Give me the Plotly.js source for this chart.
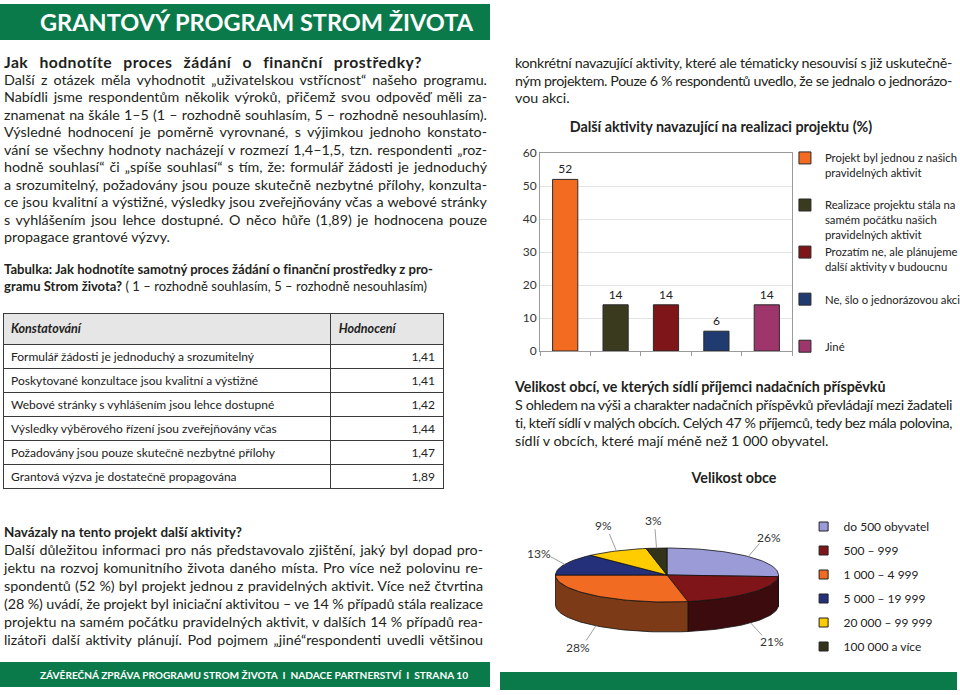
<!DOCTYPE html>
<html><head><meta charset="utf-8">
<script src="https://cdn.plot.ly/plotly-3.0.1.min.js"></script>
<style>
html,body{margin:0;padding:0;background:#fff;}
#page{position:relative;width:960px;height:695px;overflow:hidden;font-family:Lato,"Open Sans",sans-serif;color:#231f20;}
.bar{position:absolute;background:#0b7a4b;}
.ln{position:absolute;white-space:nowrap;line-height:18px;height:18px;}
.ln.j{text-align:justify;text-align-last:justify;}
.ln.b{font-weight:bold;}
.ln.c{text-align:center;}
.ttl{color:#fff;font-weight:bold;line-height:30px;height:30px;}
.ftr{color:#fff;font-weight:bold;line-height:14px;height:14px;}
.plot{position:absolute;}
</style></head>
<body>
<div id="page">
  <div class="bar" style="left:0;top:4px;width:490px;height:36px;"></div>
  <div class="bar" style="left:0;top:662px;width:490px;height:25px;"></div>
  <div class="bar" style="left:500px;top:672px;width:457px;height:18px;"></div>
  <div id="tbl" class="plot" style="left:2px;top:312px;width:442px;height:182px;"></div>
  <div id="barchart" class="plot" style="left:500px;top:110px;width:480px;height:300px;"></div>
  <div id="pie" class="plot" style="left:500px;top:495px;width:460px;height:170px;"></div>
</div>
<script>
// ---------- DATA ----------
const tableHeader = ['Konstatování', 'Hodnocení'];
const statements = [
  'Formulář žádosti je jednoduchý a srozumitelný',
  'Poskytované konzultace jsou kvalitní a výstižné',
  'Webové stránky s vyhlášením jsou lehce dostupné',
  'Výsledky výběrového řízení jsou zveřejňovány včas',
  'Požadovány jsou pouze skutečně nezbytné přílohy',
  'Grantová výzva je dostatečně propagována'
];
const ratings = ['1,41', '1,41', '1,42', '1,44', '1,47', '1,89'];

const activityTitle = 'Další aktivity navazující na realizaci projektu (%)';
const activityLabels = [
  'Projekt byl jednou z našich<br>pravidelných aktivit',
  'Realizace projektu stála na<br>samém počátku našich<br>pravidelných aktivit',
  'Prozatím ne, ale plánujeme<br>další aktivity v budoucnu',
  'Ne, šlo o jednorázovou akci',
  'Jiné'
];
const activityValues = [52, 14, 14, 6, 14];
const activityTicks = [0, 10, 20, 30, 40, 50, 60];

const sizeTitle = 'Velikost obce';
const sizeLabels = ['do 500 obyvatel', '500 – 999', '1 000 – 4 999', '5 000 – 19 999', '20 000 – 99 999', '100 000 a více'];
const sizeValues = [26, 21, 28, 13, 9, 3];

// ---------- STYLES ----------
const FONT = 'Lato, "Open Sans", sans-serif';
const activityColors = ['#f26b21', '#3a3a1f', '#7e1518', '#1f3b6f', '#9e356b'];
const sizeTopColors = ['#9b9bd8', '#7f1518', '#f26b22', '#25307a', '#ffcc00', '#33331a'];
const sizeSideColors = ['#6a6aa0', '#3c0b0d', '#7d3a17', '#151c4a', '#a08000', '#1a1a0d'];

// ---------- TEXT LINES ----------
// [left, centerY, width, mode, cls, fontSize, html]   mode: j=justify, f=fit width, n=natural
const L = 4, LW = 483, FS = 14.3;
const textLines = [
  [40, 22, 433, 'f', 'ttl', 25, 'GRANTOVÝ PROGRAM STROM ŽIVOTA'],
  [L, 62, 418, 'f', 'b', FS, 'Jak hodnotíte proces žádání o finanční prostředky?'],
  [L, 79.5, LW, 'j', '', FS, 'Další z otázek měla vyhodnotit „uživatelskou vstřícnost“ našeho programu.'],
  [L, 97, LW, 'j', '', FS, 'Nabídli jsme respondentům několik výroků, přičemž svou odpověď měli za-'],
  [L, 114.5, LW, 'j', '', FS, 'znamenat na škále 1–5 (1 – rozhodně souhlasím, 5 – rozhodně nesouhlasím).'],
  [L, 132, LW, 'j', '', FS, 'Výsledné hodnocení je poměrně vyrovnané, s výjimkou jednoho konstato-'],
  [L, 149.5, LW, 'j', '', FS, 'vání se všechny hodnoty nacházejí v rozmezí 1,4–1,5, tzn. respondenti „roz-'],
  [L, 167, LW, 'j', '', FS, 'hodně souhlasí“ či „spíše souhlasí“ s tím, že: formulář žádosti je jednoduchý'],
  [L, 184.5, LW, 'j', '', FS, 'a srozumitelný, požadovány jsou pouze skutečně nezbytné přílohy, konzulta-'],
  [L, 202, LW, 'j', '', FS, 'ce jsou kvalitní a výstižné, výsledky jsou zveřejňovány včas a webové stránky'],
  [L, 219.5, LW, 'j', '', FS, 's vyhlášením jsou lehce dostupné. O něco hůře (1,89) je hodnocena pouze'],
  [L, 237, 300, 'n', '', FS, 'propagace grantové výzvy.'],
  [L, 269, 429, 'f', 'b', FS, 'Tabulka: Jak hodnotíte samotný proces žádání o finanční prostředky z pro-'],
  [L, 286, 423, 'f', '', FS, '<b>gramu Strom života?</b> ( 1 – rozhodně souhlasím, 5 – rozhodně nesouhlasím)'],
  [L, 532, 238, 'f', 'b', FS, 'Navázaly na tento projekt další aktivity?'],
  [L, 550, 479, 'j', '', FS, 'Další důležitou informaci pro nás představovalo zjištění, jaký byl dopad pro-'],
  [L, 568, 479, 'j', '', FS, 'jektu na rozvoj komunitního života daného místa. Pro více než polovinu re-'],
  [L, 586, 479, 'j', '', FS, 'spondentů (52 %) byl projekt jednou z pravidelných aktivit. Více než čtvrtina'],
  [L, 604, 479, 'j', '', FS, '(28 %) uvádí, že projekt byl iniciační aktivitou – ve 14 % případů stála realizace'],
  [L, 622, 479, 'j', '', FS, 'projektu na samém počátku pravidelných aktivit, v dalších 14 % případů rea-'],
  [L, 640, 479, 'j', '', FS, 'lizátoři další aktivity plánují. Pod pojmem „jiné“respondenti uvedli většinou'],
  [40, 674.5, 428, 'f', 'ftr', 11, 'ZÁVĚREČNÁ ZPRÁVA PROGRAMU STROM ŽIVOTA &nbsp;I&nbsp; NADACE PARTNERSTVÍ &nbsp;I&nbsp; STRANA 10'],
  [515, 63, 437, 'j', '', FS, 'konkrétní navazující aktivity, které ale tématicky nesouvisí s již uskutečně-'],
  [515, 80.5, 437, 'j', '', FS, 'ným projektem. Pouze 6 % respondentů uvedlo, že se jednalo o jednorázo-'],
  [515, 98, 300, 'n', '', FS, 'vou akci.'],
  [515, 387, 437, 'n', 'b', FS, 'Velikost obcí, ve kterých sídlí příjemci nadačních příspěvků'],
  [515, 405, 437, 'j', '', FS, 'S ohledem na výši a charakter nadačních příspěvků převládají mezi žadateli'],
  [515, 423, 437, 'j', '', FS, 'ti, kteří sídlí v malých obcích. Celých 47 % příjemců, tedy bez mála polovina,'],
  [515, 441, 437, 'n', '', FS, 'sídlí v obcích, které mají méně než 1 000 obyvatel.'],
  [634, 478, 200, 'n', 'b c', FS, sizeTitle]
];
const page = document.getElementById('page');
textLines.forEach(([x, yc, w, mode, cls, fs, html]) => {
  const d = document.createElement('div');
  d.className = 'ln ' + cls + (mode === 'j' ? ' j' : '');
  const h = cls === 'ttl' ? 30 : (cls === 'ftr' ? 14 : 18);
  d.style.left = x + 'px'; d.style.top = (yc - h / 2) + 'px'; d.style.width = w + 'px';
  d.dataset.w = w; d.dataset.mode = mode; d.dataset.fs = fs;
  const s = document.createElement('span');
  s.innerHTML = html;
  d.appendChild(s);
  page.appendChild(d);
});
function fitAll() {
  document.querySelectorAll('.ln').forEach(d => {
    const s = d.firstChild, w = +d.dataset.w, mode = d.dataset.mode, base = +d.dataset.fs;
    s.style.letterSpacing = '0px'; s.style.wordSpacing = '0px';
    d.style.fontSize = base + 'px';
    if (mode === 'n') return;
    d.style.textAlign = 'left'; d.style.textAlignLast = 'left';
    let nat = s.getBoundingClientRect().width;
    const txt = s.textContent;
    const n = Math.max(1, txt.length);
    const spaces = (txt.match(/ /g) || []).length;
    if (mode === 'f') {
      const r = Math.min(1.1, Math.max(0.88, w / nat));
      d.style.fontSize = (base * r) + 'px';
      nat = s.getBoundingClientRect().width;
      const res = w - nat;
      if (res > 0 && spaces > 0) {
        const ls = res * 0.35 / n;
        s.style.letterSpacing = ls + 'px';
        const nat2 = s.getBoundingClientRect().width;
        s.style.wordSpacing = ((w - nat2) / spaces) + 'px';
      } else {
        s.style.letterSpacing = (res / n) + 'px';
      }
    } else if (nat > w) {
      s.style.letterSpacing = ((w - nat) / n) + 'px';
    }
    d.style.textAlign = ''; d.style.textAlignLast = '';
  });
}
fitAll();
if (document.fonts && document.fonts.ready) document.fonts.ready.then(fitAll);
window.addEventListener('load', fitAll);

// ---------- TABLE ----------
Plotly.newPlot('tbl', [{
  type: 'table',
  columnwidth: [327, 112],
  header: {
    values: tableHeader.map(h => '<b><i>' + h + '</i></b>'),
    align: ['left', 'left'],
    height: 29,
    fill: {color: '#e6e6e6'},
    line: {color: '#3a3a3a', width: 1},
    font: {family: FONT, size: 12.5, color: '#222'}
  },
  cells: {
    values: [statements, ratings],
    align: ['left', 'right'],
    height: 24,
    fill: {color: '#ffffff'},
    line: {color: '#3a3a3a', width: 1},
    font: {family: FONT, size: 12, color: '#222'}
  }
}], {
  width: 442, height: 182, margin: {l: 1, r: 1, t: 1, b: 1},
  paper_bgcolor: 'rgba(0,0,0,0)'
}, {staticPlot: true, displayModeBar: false});

// ---------- BAR CHART ----------
function padLines(s, n) {
  const c = s.split('<br>').length;
  let out = s;
  for (let i = c; i < n; i++) out += '<br> ';
  return out;
}
const barTraces = activityLabels.map((lab, i) => ({
  type: 'bar',
  x: [lab],
  y: [activityValues[i]],
  name: padLines(lab, 3),
  legendgroup: 'g' + i,
  text: [String(activityValues[i])],
  textposition: 'outside',
  cliponaxis: false,
  textfont: {family: FONT, size: 12, color: '#222'},
  marker: {color: activityColors[i], line: {color: '#2a2a2a', width: 1}},
  hoverinfo: 'skip'
}));
Plotly.newPlot('barchart', barTraces, {
  width: 480, height: 300,
  margin: {l: 40, r: 188, t: 43, b: 59},
  barmode: 'overlay', bargap: 0.5,
  title: {text: '<b>' + activityTitle + '</b>', font: {family: FONT, size: 14.3, color: '#222'},
          x: 221 / 480, xanchor: 'center', y: 1 - 17 / 300, yanchor: 'middle', xref: 'container', yref: 'container'},
  showlegend: true,
  legend: {x: 0.972, xanchor: 'left', y: 1.045, yanchor: 'top', tracegroupgap: 0, valign: 'top', maxheight: 400,
           itemwidth: 30, font: {family: FONT, size: 11.3, color: '#222'}, bgcolor: 'rgba(0,0,0,0)'},
  xaxis: {type: 'category', categoryorder: 'array', categoryarray: activityLabels, showticklabels: false,
          tickson: 'boundaries', ticks: 'outside', ticklen: 4, tickcolor: '#9a9a9a',
          showline: true, mirror: true, linecolor: '#9a9a9a', linewidth: 1, showgrid: false, fixedrange: true},
  yaxis: {range: [0, 60], tickvals: activityTicks, showline: true, mirror: true, linecolor: '#9a9a9a',
          gridcolor: '#e4e4e4', zeroline: false, ticks: '', tickfont: {family: FONT, size: 12, color: '#333'}, fixedrange: true},
  plot_bgcolor: '#fff', paper_bgcolor: 'rgba(0,0,0,0)'
}, {staticPlot: true, displayModeBar: false});

// ---------- 3D-LOOK PIE ----------
(function () {
  const cx = 167, cy = 80, rx = 111.5, ry = 27, depth = 30;
  const total = sizeValues.reduce((a, b) => a + b, 0);
  const rad = a => a * Math.PI / 180;
  const px = a => cx + rx * Math.cos(rad(a));
  const py = a => cy - ry * Math.sin(rad(a));
  const sideTraces = [], topTraces = [], labelTraces = [], annotations = [], legendTraces = [];
  let start = 90;
  sizeValues.forEach((v, i) => {
    const sweep = v / total * 360;
    const a0 = start, a1 = start - sweep;
    start = a1;
    const tx = [cx], ty = [cy];
    const steps = Math.max(4, Math.ceil(sweep / 2));
    for (let k = 0; k <= steps; k++) { const a = a0 - sweep * k / steps; tx.push(px(a)); ty.push(py(a)); }
    tx.push(cx); ty.push(cy);
    topTraces.push({type: 'scatter', mode: 'lines', x: tx, y: ty, fill: 'toself', fillcolor: sizeTopColors[i],
      line: {color: '#111', width: 0.8}, showlegend: false, hoverinfo: 'skip'});
    [[a0, a1], [a0 - 360, a1 - 360], [a0 + 360, a1 + 360]].forEach(([h, l]) => {
      const H = Math.min(h, 0), Lo = Math.max(l, -180);
      if (H > Lo) {
        const sx = [], sy = [];
        const n = Math.max(3, Math.ceil((H - Lo) / 2));
        for (let k = 0; k <= n; k++) { const a = H - (H - Lo) * k / n; sx.push(px(a)); sy.push(py(a)); }
        for (let k = n; k >= 0; k--) { const a = H - (H - Lo) * k / n; sx.push(px(a)); sy.push(py(a) + depth); }
        sx.push(sx[0]); sy.push(sy[0]);
        sideTraces.push({type: 'scatter', mode: 'lines', x: sx, y: sy, fill: 'toself', fillcolor: sizeSideColors[i],
          line: {color: '#111', width: 0.8}, showlegend: false, hoverinfo: 'skip'});
      }
    });
    const m = (a0 + a1) / 2;
    const s = Math.sin(rad(m)), c = Math.cos(rad(m));
    const drop = s < 0 ? depth : 0;
    const ex = px(m), ey = py(m) + drop;
    const lx = cx + 140 * c, ly = cy - 55 * s + drop;
    const dx = lx - ex, dy = ly - ey, dl = Math.hypot(dx, dy);
    const ex2 = lx - dx / dl * 13, ey2 = ly - dy / dl * 9;
    labelTraces.push({type: 'scatter', mode: 'lines', x: [ex, ex2], y: [ey, ey2],
      line: {color: '#a0a0a0', width: 1}, showlegend: false, hoverinfo: 'skip'});
    annotations.push({x: lx, y: ly, xref: 'x', yref: 'y', text: Math.round(v / total * 100) + '%', showarrow: false,
      font: {family: FONT, size: 12, color: '#333'}, xanchor: 'center', yanchor: 'middle'});
    legendTraces.push({type: 'scatter', mode: 'markers', x: [null], y: [null], name: sizeLabels[i],
      legendgroup: 'p' + i, marker: {symbol: 'square', size: 9, color: sizeTopColors[i], line: {color: '#222', width: 1}},
      hoverinfo: 'skip'});
  });
  Plotly.newPlot('pie', [...sideTraces, ...topTraces, ...labelTraces, ...legendTraces], {
    width: 460, height: 170, margin: {l: 0, r: 0, t: 0, b: 0},
    xaxis: {range: [0, 460], visible: false, fixedrange: true},
    yaxis: {range: [170, 0], visible: false, fixedrange: true},
    annotations: annotations,
    showlegend: true,
    legend: {x: 0.66, xanchor: 'left', y: 1 - 17 / 170, yanchor: 'top', tracegroupgap: 5, itemwidth: 30,
             font: {family: FONT, size: 12, color: '#222'}, bgcolor: 'rgba(0,0,0,0)'},
    plot_bgcolor: 'rgba(0,0,0,0)', paper_bgcolor: 'rgba(0,0,0,0)'
  }, {staticPlot: true, displayModeBar: false});
})();
</script>
</body></html>
